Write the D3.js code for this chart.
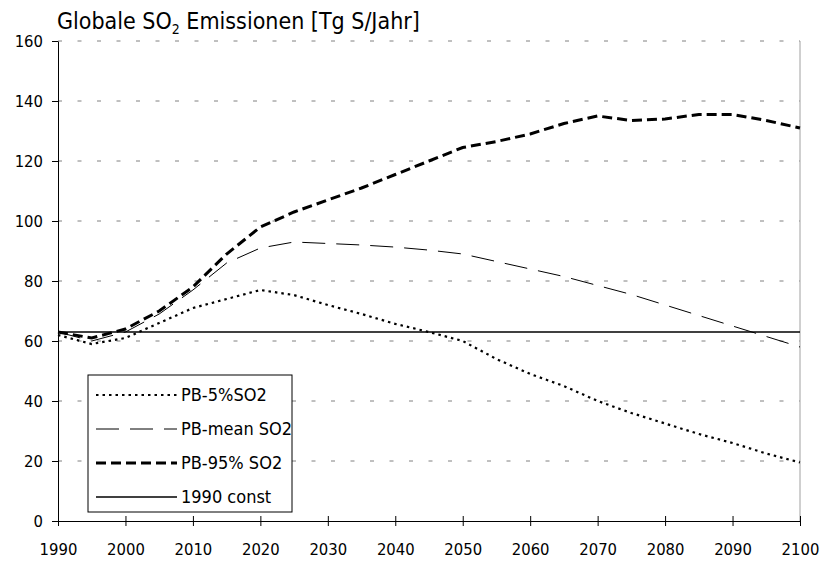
<!DOCTYPE html>
<html>
<head>
<meta charset="utf-8">
<script src="https://cdn.jsdelivr.net/npm/d3@7"></script>
<style>
  body { margin: 0; background: #fff; }
  text { font-family: "DejaVu Sans Condensed", "Liberation Sans", sans-serif; fill: #000; }
</style>
</head>
<body>
<div id="chart"></div>
<script>
"use strict";

// Jahre und Werte (alle 5 Jahre)
const years = [1990, 1995, 2000, 2005, 2010, 2015, 2020, 2025, 2030, 2035, 2040, 2045,
    2050, 2055, 2060, 2065, 2070, 2075, 2080, 2085, 2090, 2095, 2100];
const pb5 = [62, 59, 61, 66, 71, 74, 77, 75.3, 72, 69, 65.7, 63,
    60, 54, 49, 45, 40, 36, 32.5, 29, 26, 22.5, 19.5];
const pbMean = [63, 60, 63, 69, 77, 86, 91, 93, 92.5, 92, 91.3, 90.3,
    89, 86.5, 84, 81.5, 78.5, 75.5, 72, 68.5, 65, 61.5, 58];
const pb95 = [63, 61, 64, 70, 78, 89, 98, 103, 107, 111, 115.5, 120,
    124.5, 126.5, 129, 132.5, 135, 133.5, 134, 135.5, 135.5, 133.5, 131];
const constYears = [1990, 2100];
const const1990 = [63, 63];

const seriesNames = ["PB-5%SO2", "PB-mean SO2", "PB-95% SO2", "1990 const"];
const xTicks = [1990, 2000, 2010, 2020, 2030, 2040, 2050, 2060, 2070, 2080, 2090, 2100];
const yTicks = [0, 20, 40, 60, 80, 100, 120, 140, 160];

const plot = {
    width: 820,
    height: 563,
    left: 58,
    right: 800,
    top: 41,
    bottom: 521
}

const styles = [
    { width: 2.2, dash: "2.5,4" },
    { width: 1, dash: "23,11" },
    { width: 3, dash: "10,5" },
    { width: 1.6, dash: null }
];

window.onload = function () {
    let svg = d3.select("#chart")
        .append("svg")
        .attr("width", plot.width)
        .attr("height", plot.height);

    let xScale = d3.scaleLinear()
        .domain([1990, 2100])
        .range([plot.left, plot.right]);
    let yScale = d3.scaleLinear()
        .domain([0, 160])
        .range([plot.bottom, plot.top]);

    // gridlines
    svg.selectAll(".grid")
        .data(yTicks.filter(d => d > 0))
        .enter()
        .append("line")
        .attr("x1", plot.left)
        .attr("x2", plot.right)
        .attr("y1", d => yScale(d))
        .attr("y2", d => yScale(d))
        .attr("stroke", "#808080")
        .attr("stroke-width", 1)
        .attr("stroke-dasharray", "4,15.5");

    // rechter Rand
    svg.append("line")
        .attr("x1", plot.right).attr("x2", plot.right)
        .attr("y1", plot.top).attr("y2", plot.bottom)
        .attr("stroke", "#a0a0a0");

    // y axis
    let yAxis = d3.axisLeft(yScale).tickValues(yTicks).tickSize(6).tickSizeOuter(0).tickPadding(9);
    let gy = svg.append("g")
        .attr("transform", "translate(" + plot.left + ",0)")
        .call(yAxis);
    gy.selectAll("text").style("font-size", "16.5px");

    // x axis, ticks cross the line
    let xAxis = d3.axisBottom(xScale).tickValues(xTicks).tickFormat(d3.format("d"))
        .tickSize(5).tickSizeOuter(0).tickPadding(17);
    let gx = svg.append("g")
        .attr("transform", "translate(0," + plot.bottom + ")")
        .call(xAxis);
    gx.selectAll(".tick line").attr("y1", -5);
    gx.selectAll("text").style("font-size", "16.5px");
    svg.selectAll(".domain").attr("stroke", "#000");

    // series
    let line = d3.line()
        .x(d => xScale(d[0]))
        .y(d => yScale(d[1]));
    let series = [
        years.map((y, i) => [y, pb5[i]]),
        years.map((y, i) => [y, pbMean[i]]),
        years.map((y, i) => [y, pb95[i]]),
        constYears.map((y, i) => [y, const1990[i]])
    ];
    // Reihenfolge: const zuerst, dann die Szenarien
    [3, 1, 0, 2].forEach(function (k) {
        svg.append("path")
            .datum(series[k])
            .attr("fill", "none")
            .attr("stroke", "#000")
            .attr("stroke-width", styles[k].width)
            .attr("stroke-dasharray", styles[k].dash)
            .attr("d", line);
    });

    // legend
    let legend = svg.append("g").attr("transform", "translate(88,375)");
    legend.append("rect")
        .attr("width", 204)
        .attr("height", 137)
        .attr("fill", "#fff")
        .attr("stroke", "#000")
        .attr("stroke-width", 1);
    seriesNames.forEach(function (name, i) {
        let y = 20 + i * 34;
        legend.append("line")
            .attr("x1", 8).attr("x2", 89)
            .attr("y1", y).attr("y2", y)
            .attr("stroke", "#000")
            .attr("stroke-width", styles[i].width)
            .attr("stroke-dasharray", styles[i].dash);
        legend.append("text")
            .attr("x", 93)
            .attr("y", y + 6)
            .style("font-size", "18px")
            .text(name);
    });

    // title
    let title = svg.append("text")
        .attr("x", 57)
        .attr("y", 29)
        .style("font-size", "23px");
    title.append("tspan").text("Globale SO");
    title.append("tspan").attr("dy", 5).style("font-size", "14px").text("2");
    title.append("tspan").attr("dy", -5).text(" Emissionen [Tg S/Jahr]");
}
</script>
</body>
</html>
